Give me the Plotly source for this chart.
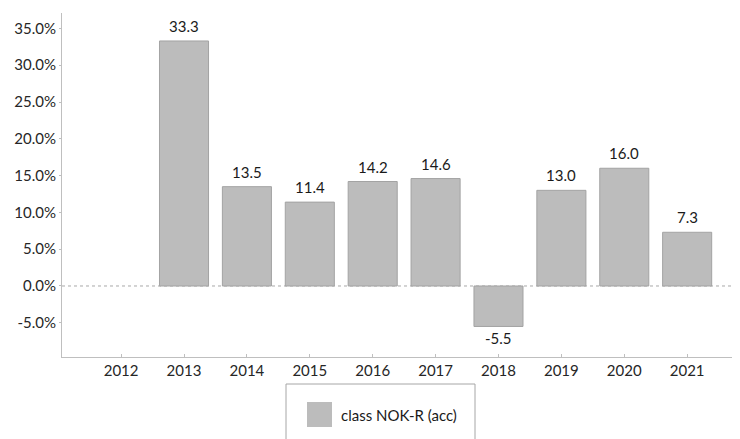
import plotly.graph_objects as go

years = [2012, 2013, 2014, 2015, 2016, 2017, 2018, 2019, 2020, 2021]
returns = [None, 33.3, 13.5, 11.4, 14.2, 14.6, -5.5, 13.0, 16.0, 7.3]
series_name = "class NOK-R (acc)"
y_ticks = [-5, 0, 5, 10, 15, 20, 25, 30, 35]
y_tick_labels = [f"{v:.1f}%" for v in y_ticks]

OFF = 8  # default page body margin
W, H = 740 - OFF, 439 - OFF
ML, MR, MT, MB = 62 - OFF, 0, 13 - OFF, 82
PW, PH = W - ML - MR, H - MT - MB

def px_x(p):
    return (p - OFF - ML) / PW

def px_y(p):
    return (H - MB - (p - OFF)) / PH

FONT = "Lato"
FS = 15
BAR_FILL = "#bcbcbc"
BAR_LINE = "#a3a3a3"
AXIS = "#bfbfbf"

fig = go.Figure()
fig.add_trace(go.Bar(
    x=years, y=returns, name=series_name, width=0.78,
    marker=dict(color=BAR_FILL, line=dict(color=BAR_LINE, width=1)),
    showlegend=False, hoverinfo="x+y",
))

annotations = []
for yr, v in zip(years, returns):
    if v is None:
        continue
    annotations.append(dict(
        x=yr, y=v, xref="x", yref="y", text=f"{v:.1f}", showarrow=False,
        yanchor="bottom" if v >= 0 else "top",
        yshift=4 if v >= 0 else -1,
        font=dict(family=FONT, size=FS, color="#1a1a1a"),
    ))

# manual legend
annotations.append(dict(
    x=px_x(339), y=px_y(414.5), xref="paper", yref="paper", text=series_name,
    showarrow=False, xanchor="left", yanchor="middle",
    font=dict(family=FONT, size=FS, color="#1a1a1a"),
))

shapes = [
    dict(type="line", xref="paper", yref="y", x0=0, x1=1, y0=0, y1=0,
         line=dict(color="#a8a8a8", width=1, dash="dot"), layer="below"),
    dict(type="rect", xref="paper", yref="paper",
         x0=px_x(286), x1=px_x(475), y0=px_y(384), y1=px_y(480),
         line=dict(color="#a6a6a6", width=1)),
    dict(type="rect", xref="paper", yref="paper",
         x0=px_x(307), x1=px_x(332), y0=px_y(402), y1=px_y(427),
         line=dict(width=0), fillcolor=BAR_FILL),
]

fig.update_layout(
    width=W, height=H,
    margin=dict(l=ML, r=MR, t=MT, b=MB, pad=0),
    paper_bgcolor="white", plot_bgcolor="white",
    font=dict(family=FONT, size=FS, color="#262626"),
    annotations=annotations, shapes=shapes, showlegend=False,
)
fig.update_xaxes(
    type="linear", range=[2011.06, 2021.84], tickvals=years,
    ticktext=[str(y) for y in years], automargin=False,
    showline=True, linecolor=AXIS, linewidth=1, showgrid=False, zeroline=False,
    ticks="inside", ticklen=3, tickcolor=AXIS,
    tickfont=dict(family=FONT, size=FS, color="#262626"),
)
fig.update_yaxes(
    range=[-9.65, 37.1], tickvals=y_ticks, ticktext=y_tick_labels,
    automargin=False,
    showline=True, linecolor=AXIS, linewidth=1, showgrid=False, zeroline=False,
    ticks="outside", ticklen=2, tickcolor=AXIS,
    tickfont=dict(family=FONT, size=FS, color="#262626"),
)

fig.write_html("out.html")
